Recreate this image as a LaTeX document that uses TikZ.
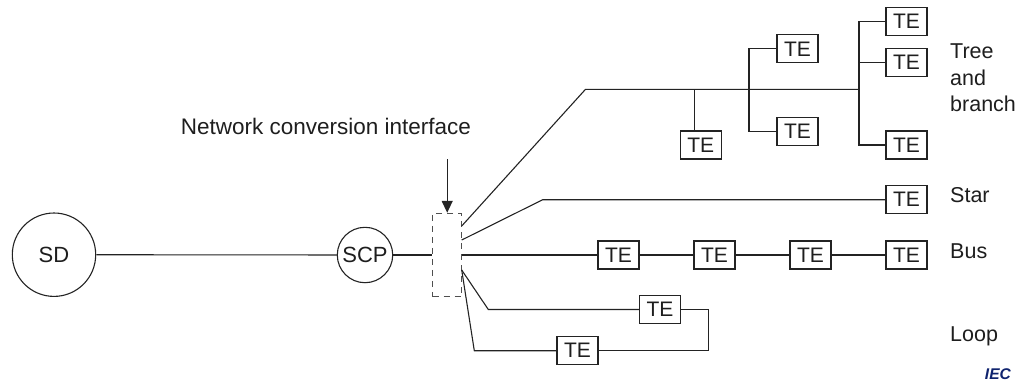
\documentclass[tikz,border=0pt]{standalone}
\usepackage{fontspec}
\setmainfont{Liberation Sans}
\usetikzlibrary{arrows.meta}
\definecolor{ln}{RGB}{35,35,35}
\definecolor{txt}{RGB}{30,30,30}
\definecolor{iecblue}{RGB}{15,35,110}
\begin{document}
\begin{tikzpicture}[x=1pt,y=-1pt,
  conn/.style={draw=ln, line width=1.1pt},
  tebox/.style={draw=ln, line width=1.1pt, minimum width=41pt, minimum height=28pt, inner sep=0pt, text=txt, font=\fontsize{21}{24}\selectfont},
  circ/.style={circle, draw=ln, line width=1.1pt, inner sep=0pt, text=txt, font=\fontsize{22}{24}\selectfont},
  lbl/.style={anchor=base west, inner sep=0pt, text=txt, font=\fontsize{21.5}{24}\selectfont},
  ncibox/.style={draw=ln!80, line width=1.1pt, dash pattern=on 6pt off 5pt, minimum width=29pt, minimum height=83.4pt, inner sep=0pt}]
\useasboundingbox (0,0) rectangle (1017,383);
% main chain
\node[circ, minimum size=83.4pt] (sd) at (54,254.7) {SD};
\node[circ, minimum size=55.4pt] (scp) at (365,255) {SCP};
\node[ncibox] (nci) at (447.2,255) {};
\draw[conn] (sd) -- (scp);
\draw[conn] (scp) -- (nci.west);
% label and arrow
\node[anchor=base west, inner sep=0pt, text=txt, font=\fontsize{22.5}{26}\selectfont] (ncitext) at (180.7,134) {Network conversion interface};
\coordinate (arrtop) at (447.2,159);
\draw[draw=ln, line width=1.3pt, -{Triangle[length=12pt,width=11pt]}] (arrtop) -- (nci.north);
% tree and branch
\node[tebox] (t1) at (700.8,145) {TE};
\node[tebox] (t2) at (797.5,48.9) {TE};
\node[tebox] (t3) at (797.5,131.2) {TE};
\node[tebox] (t4) at (906.5,21.2) {TE};
\node[tebox] (t5) at (906.5,62.5) {TE};
\node[tebox] (t6) at (906.5,145) {TE};
\coordinate (tr0) at (461.7,226);
\coordinate (tr1) at (585.5,89.3);
\coordinate (j1) at (694.3,89.3);
\coordinate (j2) at (749,89.3);
\coordinate (j3) at (859,89.3);
\draw[conn] (tr0) -- (tr1) -- (j3);
\draw[conn] (j1) -- (j1 |- t1.north);
\draw[conn] (t2.west) -- (t2.west -| j2) -- (t3.west -| j2) -- (t3.west);
\draw[conn] (t4.west) -- (t4.west -| j3) -- (t6.west -| j3) -- (t6.west);
\draw[conn] (t5.west -| j3) -- (t5.west);
\node[lbl] (lt1) at (950,58.3) {Tree};
\node[lbl] (lt2) at (950,85) {and};
\node[lbl] (lt3) at (950,111.7) {branch};
% star
\node[tebox] (st) at (906.5,199.7) {TE};
\coordinate (s0) at (461.7,240);
\coordinate (s1) at (542.7,199.7);
\draw[conn] (s0) -- (s1) -- (st.west);
\node[lbl] (lstar) at (950,202) {Star};
% bus
\node[tebox] (b1) at (618.5,255) {TE};
\node[tebox] (b2) at (714.5,255) {TE};
\node[tebox] (b3) at (810.5,255) {TE};
\node[tebox] (b4) at (906.5,255) {TE};
\draw[conn] (nci.east) -- (b1.west);
\draw[conn] (b1) -- (b2);
\draw[conn] (b2) -- (b3);
\draw[conn] (b3) -- (b4);
\node[lbl] (lbus) at (950,258.3) {Bus};
% loop
\node[tebox] (lp1) at (660,309.5) {TE};
\node[tebox] (lp2) at (577.5,350.7) {TE};
\coordinate (l0) at (461.7,270);
\coordinate (l1) at (488.3,309.5);
\coordinate (lr) at (708.3,309.5);
\coordinate (l3) at (474.3,350.7);
\draw[conn] (l0) -- (l1) -- (lp1.west);
\draw[conn] (lp1.east) -- (lr) |- (lp2.east);
\draw[conn] (lp2.west) -- (l3) -- (l0);
\node[lbl] (lloop) at (950,341.7) {Loop};
% IEC mark
\node[anchor=base east, inner sep=0pt, text=iecblue, font=\fontsize{15.5}{17}\selectfont\bfseries\itshape] (iec) at (1011,379) {IEC};
\end{tikzpicture}
\end{document}
